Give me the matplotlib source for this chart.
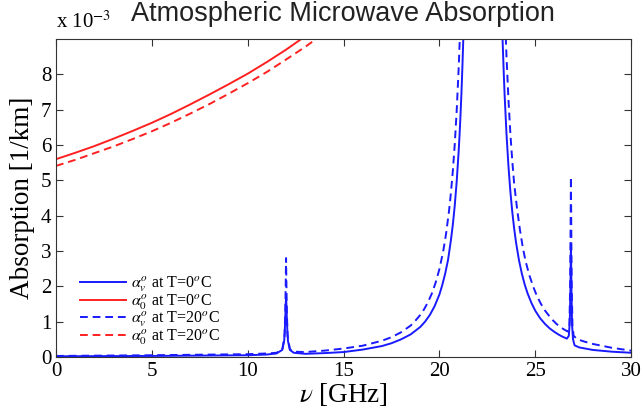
import matplotlib
matplotlib.use("Agg")
import matplotlib.pyplot as plt

# values in units of 1e-3 1/km, frequencies in GHz
# oxygen absorption, T = 0 C (solid) and T = 20 C (dashed)
nu_o2_0 = [0, 1, 2, 3, 4, 5, 6, 7, 8, 9, 10, 11, 12, 13]
a_o2_0 = [5.60, 5.78, 5.97, 6.18, 6.40, 6.63, 6.88, 7.15, 7.43, 7.72, 8.02, 8.35, 8.70, 9.08]
nu_o2_20 = [0, 1, 2, 3, 4, 5, 6, 7, 8, 9, 10, 11, 12, 13, 14]
a_o2_20 = [5.41, 5.58, 5.77, 5.96, 6.17, 6.39, 6.63, 6.89, 7.16, 7.45, 7.75, 8.07, 8.42, 8.78, 9.17]

# water vapour absorption, T = 0 C
nu_h2o_0 = [0, 5, 10, 11, 11.5, 11.8, 11.9, 11.93, 11.96, 11.98, 12.0, 12.02, 12.04, 12.07, 12.1,
            12.2, 12.4, 13, 14, 15, 16, 17, 17.5, 18, 18.5, 19, 19.25, 19.5, 19.75, 20, 20.15,
            20.3, 20.45, 20.6, 20.7, 20.8, 20.9, 21.0, 21.05, 21.1, 21.15, 21.2, 21.25, 21.3,
            22.24,
            23.25, 23.3, 23.35, 23.4, 23.5, 23.6, 23.7, 23.8, 23.9, 24.0, 24.15, 24.3, 24.45,
            24.6, 24.8, 25.0, 25.25, 25.5, 25.75, 26.0, 26.2, 26.4, 26.65, 26.75, 26.8, 26.83,
            26.86, 26.89, 26.92, 26.97, 27.05, 27.3, 28, 29, 30]
a_h2o_0 = [0.02, 0.03, 0.05, 0.07, 0.10, 0.20, 0.45, 0.70, 1.10, 1.45, 1.70, 1.45, 1.10, 0.70, 0.45,
           0.20, 0.12, 0.09, 0.11, 0.14, 0.21, 0.31, 0.39, 0.50, 0.64, 0.85, 1.00, 1.19, 1.44, 1.77, 2.04,
           2.36, 2.75, 3.31, 3.75, 4.29, 4.96, 5.79, 6.28, 6.85, 7.49, 8.23, 9.08, 10.07,
           14.0,
           9.80, 8.90, 8.12, 7.43, 6.30, 5.41, 4.69, 4.11, 3.63, 3.23, 2.74, 2.36, 2.05,
           1.80, 1.53, 1.31, 1.10, 0.94, 0.81, 0.71, 0.64, 0.58, 0.52, 0.60, 1.00, 1.80,
           3.20, 1.80, 0.90, 0.50, 0.33, 0.27, 0.20, 0.15, 0.12]

# water vapour absorption, T = 20 C
nu_h2o_20 = [0, 5, 10, 11, 11.5, 11.8, 11.92, 11.96, 11.98, 12.0, 12.02, 12.04, 12.08, 12.2,
             12.4, 13, 14, 15, 16, 17, 17.5, 18, 18.5, 18.75, 19.0, 19.2, 19.4, 19.6, 19.8,
             20.0, 20.2, 20.35, 20.5, 20.6, 20.7, 20.8, 20.9, 21.0, 21.05, 21.1, 21.15,
             22.24,
             23.4, 23.45, 23.5, 23.6, 23.7, 23.8, 23.9, 24.05, 24.2, 24.35, 24.5, 24.7, 24.9,
             25.1, 25.3, 25.5, 25.7, 25.9, 26.1, 26.3, 26.5, 26.7, 26.78, 26.82, 26.86, 26.9,
             26.94, 27.0, 27.2, 27.6, 28, 29, 30]
a_h2o_20 = [0.03, 0.05, 0.08, 0.10, 0.12, 0.20, 0.60, 1.30, 2.00, 2.80, 2.00, 1.30, 0.60, 0.22,
            0.15, 0.14, 0.18, 0.24, 0.32, 0.46, 0.56, 0.70, 0.89, 1.03, 1.19, 1.35, 1.55, 1.79, 2.10,
            2.49, 3.00, 3.50, 4.13, 4.65, 5.27, 6.03, 6.96, 8.13, 8.83, 9.62, 10.5,
            16.0,
            10.0, 9.22, 8.50, 7.30, 6.33, 5.55, 4.90, 4.20, 3.60, 3.10, 2.70, 2.30, 1.98,
            1.71, 1.50, 1.32, 1.18, 1.05, 0.94, 0.85, 0.78, 0.72, 0.90, 2.00, 5.10, 2.00,
            0.90, 0.60, 0.50, 0.43, 0.37, 0.26, 0.18]

labels = [r"$\alpha_v^o$ at T=0$^o$C", r"$\alpha_0^o$ at T=0$^o$C",
          r"$\alpha_v^o$ at T=20$^o$C", r"$\alpha_0^o$ at T=20$^o$C"]

plt.rcParams["font.family"] = "Liberation Serif"
plt.rcParams["mathtext.fontset"] = "stix"

fig = plt.figure(figsize=(6.44, 4.2), dpi=100)
ax = fig.add_axes([0.087, 0.15, 0.893, 0.757])

blue, red = "#1a1aff", "#ff2020"
ax.plot(nu_h2o_0, a_h2o_0, color=blue, lw=1.4, label=labels[0])
ax.plot(nu_o2_0, a_o2_0, color=red, lw=1.4, label=labels[1])
ax.plot(nu_h2o_20, a_h2o_20, color=blue, lw=1.4, ls=(0, (4, 2.5)), label=labels[2])
ax.plot(nu_o2_20, a_o2_20, color=red, lw=1.4, ls=(0, (4, 2.5)), label=labels[3])

ax.set_xlim(0, 30)
ax.set_ylim(0, 9)
ax.set_xticks([0, 5, 10, 15, 20, 25, 30])
ax.set_yticks(range(0, 9))
ax.tick_params(direction="in", top=True, right=True, labelsize=15, length=5, color="#333333")
for s in ax.spines.values():
    s.set_color("#333333")

ax.set_xlabel(r"$\nu$ [GHz]", fontsize=19.5, labelpad=0)
ax.set_ylabel("Absorption [1/km]", fontsize=19.5, labelpad=4)
ax.text(0.0, 1.02, r"x 10$^{-3}$", transform=ax.transAxes, fontsize=15, ha="left", va="bottom")
fig.text(0.532, 0.935, "Atmospheric Microwave Absorption", fontsize=19.5,
         family="Liberation Sans", ha="center", va="bottom", color="#222222")

leg = ax.legend(loc="lower left", bbox_to_anchor=(0.03, 0.012), frameon=False, fontsize=11.5,
                handlelength=2.9, handletextpad=0.3, labelspacing=-0.1, borderaxespad=0)

fig.savefig("out.png", dpi=100)
